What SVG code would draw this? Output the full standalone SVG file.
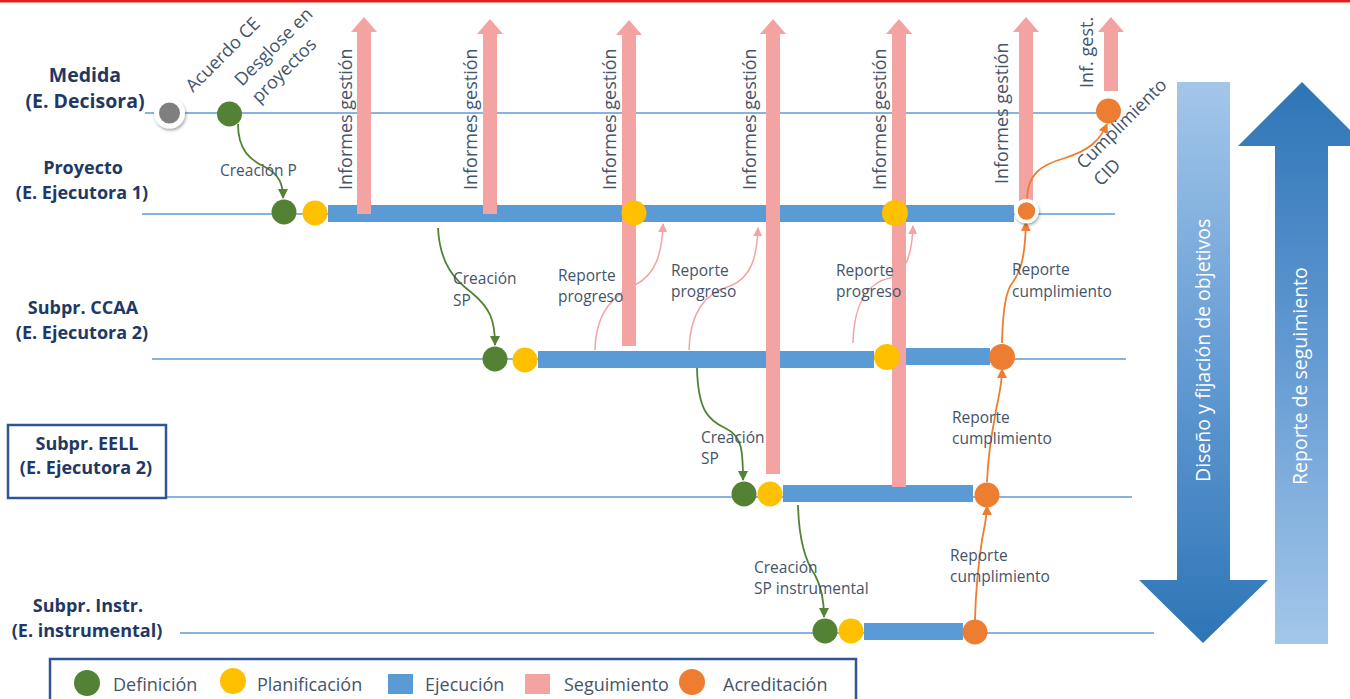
<svg xmlns="http://www.w3.org/2000/svg" width="1350" height="699" viewBox="0 0 1350 699">
<defs>
<style>
.row{font-family:"Open Sans",sans-serif;font-weight:bold;fill:#1f3864;font-size:18px;text-anchor:middle}
.r1{font-size:19.5px}
.lbl{font-family:"Open Sans",sans-serif;fill:#44546a;font-size:15.5px}
.big{font-family:"Open Sans",sans-serif;fill:#44546a;font-size:18px}
.wt{font-family:"Open Sans",sans-serif;fill:#ffffff;font-size:19.5px}
.tl{stroke:#5b9bd5;stroke-width:1.4;fill:none}
.bar{fill:#5b9bd5}
.pk{fill:#f4a3a3}
.g{fill:#548235}
.y{fill:#ffc000}
.o{fill:#ed7d31}
.cg{stroke:#548235;stroke-width:1.8;fill:none;marker-end:url(#mg)}
.cp{stroke:#f4a3a3;stroke-width:1.5;fill:none;marker-end:url(#mp)}
.co{stroke:#ed7d31;stroke-width:1.8;fill:none;marker-end:url(#mo)}
.box{fill:none;stroke:#2f5597;stroke-width:2.5}
</style>
<marker id="mg" viewBox="0 0 10 10" refX="9" refY="5" markerWidth="10" markerHeight="10" markerUnits="userSpaceOnUse" orient="auto"><path d="M0,0 L10,5 L0,10 z" fill="#548235"/></marker>
<marker id="mp" viewBox="0 0 10 10" refX="9" refY="5" markerWidth="9" markerHeight="9" markerUnits="userSpaceOnUse" orient="auto"><path d="M0,0 L10,5 L0,10 z" fill="#f4a3a3"/></marker>
<marker id="mo" viewBox="0 0 10 10" refX="9" refY="5" markerWidth="10" markerHeight="10" markerUnits="userSpaceOnUse" orient="auto"><path d="M0,0 L10,5 L0,10 z" fill="#ed7d31"/></marker>
<linearGradient id="gdown" gradientUnits="userSpaceOnUse" x1="0" y1="82" x2="0" y2="643">
<stop offset="0" stop-color="#a3c7ea"/><stop offset="0.55" stop-color="#5f97d1"/><stop offset="1" stop-color="#2e75b6"/>
</linearGradient>
<linearGradient id="gup" gradientUnits="userSpaceOnUse" x1="0" y1="82" x2="0" y2="644">
<stop offset="0" stop-color="#2e75b6"/><stop offset="0.45" stop-color="#5f97d1"/><stop offset="1" stop-color="#a3c7ea"/>
</linearGradient>
<filter id="sh" x="-50%" y="-50%" width="200%" height="200%"><feDropShadow dx="1" dy="2" stdDeviation="1.5" flood-color="#000" flood-opacity="0.35"/></filter>
</defs>

<rect x="0" y="0" width="1350" height="2.5" fill="#e0201e"/>

<g id="timelines">
<line class="tl" x1="145" y1="113" x2="1100" y2="113"/>
<line class="tl" x1="142" y1="214" x2="1115" y2="214"/>
<line class="tl" x1="152" y1="359" x2="1126" y2="359"/>
<line class="tl" x1="167" y1="497" x2="1132" y2="497"/>
<line class="tl" x1="180" y1="633" x2="1154" y2="633"/>
</g>

<g id="row-labels">
<g id="lbl-medida"><text class="row r1" x="85" y="82">Medida</text><text class="row r1" x="85" y="108">(E. Decisora)</text></g>
<g id="lbl-proyecto"><text class="row" x="83" y="174">Proyecto</text><text class="row" x="82" y="199">(E. Ejecutora 1)</text></g>
<g id="lbl-ccaa"><text class="row" x="83" y="314">Subpr. CCAA</text><text class="row" x="82" y="339">(E. Ejecutora 2)</text></g>
<g id="lbl-eell"><rect class="box" x="8" y="425" width="158" height="73"/><text class="row" x="87" y="450">Subpr. EELL</text><text class="row" x="86" y="474">(E. Ejecutora 2)</text></g>
<g id="lbl-instr"><text class="row" x="88" y="612">Subpr. Instr.</text><text class="row" x="87" y="637">(E. instrumental)</text></g>
</g>

<g id="ejecucion">
<rect class="bar" x="328" y="205" width="686" height="17"/>
<rect class="bar" x="538" y="351" width="336" height="17"/>
<rect class="bar" x="900" y="348" width="90" height="17"/>
<rect class="bar" x="783" y="485" width="190" height="17"/>
<rect class="bar" x="864" y="623" width="99" height="17"/>
</g>

<g id="seguimiento">
<path class="pk" d="M357,214 V32 H351 L364,17 L377,32 H371 V214 Z"/>
<path class="pk" d="M483,214 V34 H477 L490,19 L503,34 H497 V214 Z"/>
<path class="pk" d="M622,346 V35 H616 L629,20 L642,35 H636 V346 Z"/>
<path class="pk" d="M766,474 V34 H760 L773,19 L786,34 H780 V474 Z"/>
<path class="pk" d="M892,487 V34 H886 L899,19 L912,34 H906 V487 Z"/>
<path class="pk" d="M1019,205 V32 H1013 L1026,17 L1039,32 H1033 V205 Z"/>
<path class="pk" d="M1104,91 V32 H1098 L1111,17 L1124,32 H1118 V91 Z"/>
</g>

<g id="connectors">
<path class="cg" d="M238,124 C238,150 250,160 265,167 C280,175 283,185 283,198"/>
<path class="cg" d="M438,228 C440,265 455,280 472,293 C490,308 495,320 495,345"/>
<path class="cg" d="M697,368 C698,410 708,420 725,428 C742,436 743,450 743,480"/>
<path class="cg" d="M798,505 C799,545 808,565 815,575 C822,588 824,600 824,617"/>
<path class="cp" d="M595,350 C596,310 615,295 635,285 C655,275 662,255 663,224"/>
<path class="cp" d="M689,350 C690,310 708,292 730,286 C752,278 757,255 758,228"/>
<path class="cp" d="M853,343 C854,300 870,282 890,278 C905,274 912,255 913,226"/>
<path class="co" d="M1002,343 C1003,300 1008,288 1013,282 C1020,272 1025,260 1026,222"/>
<path class="co" d="M1027,200 C1027,175 1040,165 1065,158 C1090,150 1100,140 1107,124"/>
<path class="co" d="M987,482 C989,440 994,425 996,410 C999,395 1002,385 1002,369"/>
<path class="co" d="M975,620 C976,580 979,560 982,540 C985,525 987,515 987,506"/>
</g>

<g id="hitos">
<circle cx="169.5" cy="113" r="13" fill="#7f7f7f" stroke="#ffffff" stroke-width="5" filter="url(#sh)"/>
<circle class="g" cx="229.5" cy="114" r="12.5"/>
<circle class="g" cx="284" cy="212" r="12.5"/>
<circle class="y" cx="315" cy="213" r="12.5"/>
<circle class="y" cx="634" cy="213" r="12.5"/>
<circle class="y" cx="895" cy="213" r="13"/>
<circle class="o" cx="1026.5" cy="211" r="10.5" stroke="#ffffff" stroke-width="3.5" filter="url(#sh)"/>
<circle class="o" cx="1108.5" cy="111" r="12.5"/>
<circle class="g" cx="495" cy="359" r="12.5"/>
<circle class="y" cx="525" cy="360" r="12.5"/>
<circle class="y" cx="887" cy="357" r="13"/>
<circle class="o" cx="1002" cy="357" r="13"/>
<circle class="g" cx="744" cy="494" r="12.5"/>
<circle class="y" cx="770" cy="494" r="12.5"/>
<circle class="o" cx="987" cy="495" r="12.5"/>
<circle class="g" cx="825" cy="631" r="12.5"/>
<circle class="y" cx="851" cy="631" r="12.5"/>
<circle class="o" cx="975" cy="632" r="12.5"/>
</g>

<g id="annotations">
<text class="big" transform="translate(193,93) rotate(-45)">Acuerdo CE</text>
<text class="big" transform="translate(242,87) rotate(-45)"><tspan x="0" y="0">Desglose en</tspan><tspan x="0" y="24">proyectos</tspan></text>
<text class="big" transform="translate(1084,170) rotate(-45)"><tspan x="0" y="0">Cumplimiento</tspan><tspan x="0" y="24">CID</tspan></text>
<text class="big" transform="translate(352,190) rotate(-90)">Informes gestión</text>
<text class="big" transform="translate(477,190) rotate(-90)">Informes gestión</text>
<text class="big" transform="translate(616,190) rotate(-90)">Informes gestión</text>
<text class="big" transform="translate(756,190) rotate(-90)">Informes gestión</text>
<text class="big" transform="translate(886,190) rotate(-90)">Informes gestión</text>
<text class="big" transform="translate(1008,184) rotate(-90)">Informes gestión</text>
<text class="big" transform="translate(1093,88) rotate(-90)">Inf. gest.</text>
<text class="lbl" x="220" y="176">Creación P</text>
<text class="lbl" x="453" y="284">Creación</text><text class="lbl" x="453" y="306">SP</text>
<text class="lbl" x="558" y="281">Reporte</text><text class="lbl" x="558" y="302">progreso</text>
<text class="lbl" x="671" y="276">Reporte</text><text class="lbl" x="671" y="297">progreso</text>
<text class="lbl" x="836" y="276">Reporte</text><text class="lbl" x="836" y="297">progreso</text>
<text class="lbl" x="1012" y="275">Reporte</text><text class="lbl" x="1012" y="297">cumplimiento</text>
<text class="lbl" x="701" y="443">Creación</text><text class="lbl" x="701" y="464">SP</text>
<text class="lbl" x="952" y="423">Reporte</text><text class="lbl" x="952" y="444">cumplimiento</text>
<text class="lbl" x="754" y="573">Creación</text><text class="lbl" x="754" y="594">SP instrumental</text>
<text class="lbl" x="950" y="561">Reporte</text><text class="lbl" x="950" y="582">cumplimiento</text>
</g>

<g id="flecha-diseno">
<path d="M1177,82 H1230 V580 H1268 L1203,643 L1139,580 H1177 Z" fill="url(#gdown)"/>
<text class="wt" transform="translate(1210,482) rotate(-90)">Diseño y fijación de objetivos</text>
</g>
<g id="flecha-reporte">
<path d="M1302,82 L1366,146 H1328 V644 H1275 V146 H1238 Z" fill="url(#gup)"/>
<text class="wt" transform="translate(1307,485) rotate(-90)">Reporte de seguimiento</text>
</g>

<g id="leyenda">
<rect x="50" y="659" width="806" height="60" fill="#ffffff" stroke="#2f5597" stroke-width="2.5"/>
<circle class="g" cx="87" cy="683" r="13"/>
<text class="big" x="113" y="691">Definición</text>
<circle class="y" cx="233" cy="681" r="13"/>
<text class="big" x="257" y="691">Planificación</text>
<rect class="bar" x="388" y="674" width="25" height="20"/>
<text class="big" x="425" y="691">Ejecución</text>
<rect class="pk" x="525" y="674" width="25" height="20"/>
<text class="big" x="564" y="691">Seguimiento</text>
<circle class="o" cx="692" cy="682" r="13"/>
<text class="big" x="723" y="691">Acreditación</text>
</g>
</svg>
